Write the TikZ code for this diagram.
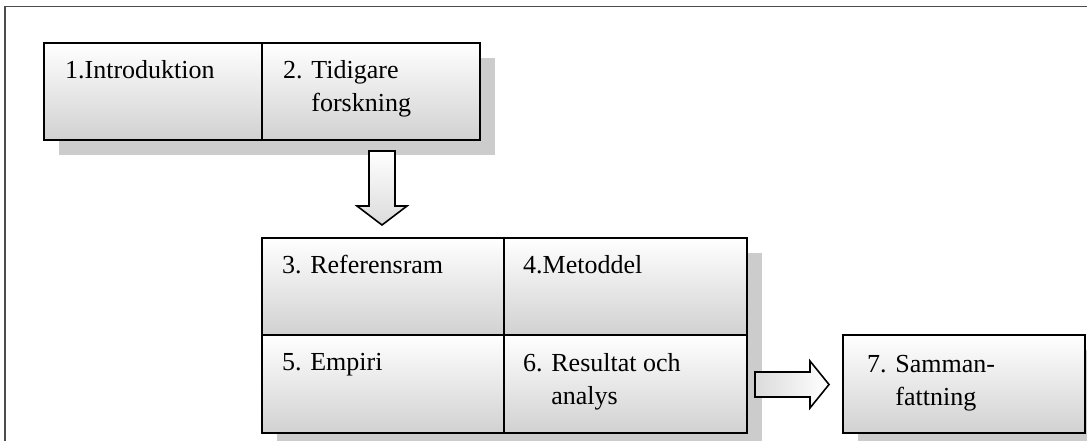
\documentclass[tikz,border=0pt]{standalone}
\usepackage{fontspec}
\setmainfont{Liberation Serif}
\usetikzlibrary{calc}
\begin{document}
\begin{tikzpicture}[x=1pt,y=-1pt,
  cell/.style={draw=black, line width=1.6pt, top color=white, bottom color=black!18,
    anchor=north west, inner sep=0pt, minimum width=#1},
  cell/.default=218pt,
  lbl/.style={anchor=base west, inner sep=0pt, align=left,
    font=\fontsize{26}{33}\selectfont},
  shadowfill/.style={fill=black!20, draw=none},
  blockarrow/.style={draw=black, line width=1.6pt, line join=miter},
  frame/.style={draw=black!70, line width=1.6pt}]
\useasboundingbox (0,0) rectangle (1087,441);
\clip (0,0) rectangle (1087,441);

% outer frame (continues past the right and bottom edges)
\draw[frame] (5,460) -- (5,6.5) -- (1100,6.5);

% drop shadows of the boxes
\fill[shadowfill] (59,58) rectangle (495,155);
\fill[shadowfill] (277,253) rectangle (762,460);
\fill[shadowfill] (858,350) rectangle (1100,460);

% arrow anchor points
\coordinate (dtail) at (382,151);
\coordinate (dtip)  at (382,225);
\coordinate (rtail) at (755,384.5);
\coordinate (rtip)  at (829,384.5);

% shadows of the block arrows
\fill[shadowfill, shift={(15,15)}]
  ($(dtail)+(-13,0)$) -- ($(dtail)+(13,0)$) -- ($(dtip)+(13,-19)$) -- ($(dtip)+(25,-19)$)
  -- (dtip) -- ($(dtip)+(-25,-19)$) -- ($(dtip)+(-13,-19)$) -- cycle;
\fill[shadowfill, shift={(16,16)}]
  ($(rtail)+(0,-12.5)$) -- ($(rtip)+(-19,-12.5)$) -- ($(rtip)+(-19,-23.5)$) -- (rtip)
  -- ($(rtip)+(-19,23.5)$) -- ($(rtip)+(-19,12.5)$) -- ($(rtail)+(0,12.5)$) -- cycle;

% block arrows
\draw[blockarrow, top color=white, bottom color=black!14]
  ($(dtail)+(-13,0)$) -- ($(dtail)+(13,0)$) -- ($(dtip)+(13,-19)$) -- ($(dtip)+(25,-19)$)
  -- (dtip) -- ($(dtip)+(-25,-19)$) -- ($(dtip)+(-13,-19)$) -- cycle;
\draw[blockarrow, left color=black!14, right color=white]
  ($(rtail)+(0,-12.5)$) -- ($(rtip)+(-19,-12.5)$) -- ($(rtip)+(-19,-23.5)$) -- (rtip)
  -- ($(rtip)+(-19,23.5)$) -- ($(rtip)+(-19,12.5)$) -- ($(rtail)+(0,12.5)$) -- cycle;

% box cells
\node[cell, minimum height=97pt] (c1) at (43,42) {};
\node[cell, minimum height=97pt] (c2) at (261,42) {};
\node[cell=242pt, minimum height=97pt] (c3) at (261,237) {};
\node[cell=243pt, minimum height=97pt] (c4) at (503,237) {};
\node[cell=242pt, minimum height=98pt] (c5) at (261,334) {};
\node[cell=243pt, minimum height=98pt] (c6) at (503,334) {};
\node[cell=242pt, minimum height=98pt] (c7) at (842,334) {};

% cell texts (a two-line label sits on the baseline of its last line)
\node[lbl] (t1) at ($(c1.north west)+(22,37)$) {1.Introduktion};
\node[lbl] (t2) at ($(c2.north west)+(22,70)$) {2. Tidigare\\\phantom{2. }forskning};
\node[lbl] (t3) at ($(c3.north west)+(21,36)$) {3. Referensram};
\node[lbl] (t4) at ($(c4.north west)+(20,36)$) {4.Metoddel};
\node[lbl] (t5) at ($(c5.north west)+(21,36)$) {5. Empiri};
\node[lbl] (t6) at ($(c6.north west)+(20,70)$) {6. Resultat och\\\phantom{6. }analys};
\node[lbl] (t7) at ($(c7.north west)+(25,71)$) {7. Samman-\\\phantom{7. }fattning};
\end{tikzpicture}
\end{document}
